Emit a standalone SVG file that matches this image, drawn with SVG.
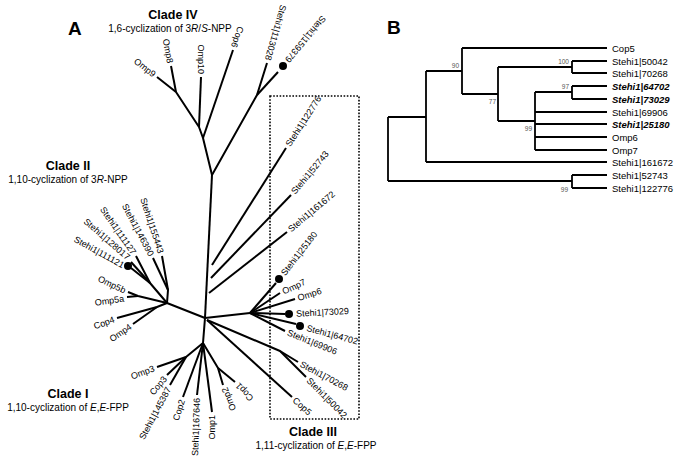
<svg xmlns="http://www.w3.org/2000/svg" width="678" height="460" viewBox="0 0 678 460">
<style>
.br{fill:none;stroke:#000;stroke-width:2;stroke-linecap:butt;stroke-linejoin:round}
.bb{fill:none;stroke:#000;stroke-width:1.8}
.t{font-family:"Liberation Sans",Arial,sans-serif;font-size:9px;fill:#000}
.tb{font-family:"Liberation Sans",Arial,sans-serif;font-size:9.5px;fill:#000}
.bi{font-weight:bold;font-style:italic}
.bs{font-family:"Liberation Sans",Arial,sans-serif;font-size:6.5px;fill:#555}
.h{font-family:"Liberation Sans",Arial,sans-serif;font-size:12.5px;font-weight:bold;fill:#000;text-anchor:middle}
.s{font-family:"Liberation Sans",Arial,sans-serif;font-size:10px;fill:#000;text-anchor:middle}
.P{font-family:"Liberation Sans",Arial,sans-serif;font-size:19px;font-weight:bold;fill:#000}
.e{text-anchor:end}
.dot{fill:#000}
</style>
<text class="P" x="68" y="35">A</text>
<text class="P" x="387" y="34">B</text>

<g id="clade-labels">
<text class="h" x="173" y="19">Clade IV</text>
<text class="s" x="170" y="32">1,6-cyclization of 3<tspan font-style="italic">R</tspan>/<tspan font-style="italic">S</tspan>-NPP</text>
<text class="h" x="68" y="170">Clade II</text>
<text class="s" x="68" y="183">1,10-cyclization of 3<tspan font-style="italic">R</tspan>-NPP</text>
<text class="h" x="68" y="398">Clade I</text>
<text class="s" x="68" y="411">1,10-cyclization of <tspan font-style="italic">E</tspan>,<tspan font-style="italic">E</tspan>-FPP</text>
<text class="h" x="313" y="436">Clade III</text>
<text class="s" x="316" y="449">1,11-cyclization of <tspan font-style="italic">E</tspan>,<tspan font-style="italic">E</tspan>-FPP</text>
</g>

<rect id="clade3-box" x="270" y="96" width="89" height="323" fill="none" stroke="#000" stroke-width="1.6" stroke-dasharray="1.6 1.6"/>

<g id="connectors-A" class="br">
<path d="M205,318 L212,175"/>
<path d="M212,175 L203,138 L199,127 L176,92 L157,77"/>
<path d="M203,138 L233,50"/>
<path d="M199,127 L201,77"/>
<path d="M176,92 L171,66"/>
<path d="M212,175 L257,95 L267,63"/>
<path d="M257,95 L278,72"/>
<path d="M212,265 L286,148"/>
<path d="M211,278 L291,195"/>
<path d="M209,293 L287,232"/>
<path d="M205,318 L250,313"/>
<path d="M250,313 L276,283"/>
<path d="M250,313 L280,293"/>
<path d="M250,313 L295,299"/>
<path d="M250,313 L285,314"/>
<path d="M250,313 L296,324"/>
<path d="M250,313 L285,331"/>
<path d="M207,320 L280,351 L298,362"/>
<path d="M280,351 L306,377"/>
<path d="M207,320 L292,397"/>
<path d="M205,318 L167,303 L157,307 L117,318"/>
<path d="M157,307 L133,324"/>
<path d="M167,303 L138,296 L128,292"/>
<path d="M138,296 L127,297"/>
<path d="M167,303 L168,290 L162,256"/>
<path d="M168,290 L153,258"/>
<path d="M167,303 L150,283 L136,256"/>
<path d="M150,283 L131,262"/>
<path d="M150,283 L131,268"/>
<path d="M205,318 L203,343 L186,357 L157,367"/>
<path d="M186,357 L167,375"/>
<path d="M186,357 L170,385"/>
<path d="M203,343 L183,397"/>
<path d="M203,343 L197,395"/>
<path d="M203,343 L212,412"/>
<path d="M203,343 L218,368 L223,385"/>
<path d="M218,368 L235,382"/>
</g>

<g id="markers-A" class="dot">
<circle cx="283" cy="66" r="4"/>
<circle cx="128" cy="266" r="4"/>
<circle cx="279" cy="279" r="4"/>
<circle cx="289" cy="314" r="4"/>
<circle cx="300" cy="326" r="4"/>
</g>

<g id="leaves-A" class="t">
<g id="Omp9"><text class="e" transform="translate(157,77) rotate(38)" x="-3" dy="0.35em">Omp9</text></g>
<g id="Omp8"><text class="e" transform="translate(171,66) rotate(79)" x="-3" dy="0.35em">Omp8</text></g>
<g id="Omp10"><text class="e" transform="translate(201,77) rotate(90)" x="-3" dy="0.35em">Omp10</text></g>
<g id="Cop6"><text class="e" transform="translate(233,50) rotate(109)" x="-3" dy="0.35em">Cop6</text></g>
<g id="S113028"><text class="e" transform="translate(267,63) rotate(106)" x="-3" dy="0.35em">Stehi1|113028</text></g>
<g id="S159379"><text class="e" transform="translate(283,66) rotate(130)" x="-6" dy="0.35em">Stehi1|159379</text></g>
<g id="S155443"><text class="e" transform="translate(162,256) rotate(72)" x="-3" dy="0.35em">Stehi1|155443</text></g>
<g id="S146390"><text class="e" transform="translate(153,258) rotate(62)" x="-3" dy="0.35em">Stehi1|146390</text></g>
<g id="S111127"><text class="e" transform="translate(136,256) rotate(55)" x="-3" dy="0.35em">Stehi1|111127</text></g>
<g id="S128017"><text class="e" transform="translate(131,260) rotate(41)" x="-3" dy="0.35em">Stehi1|128017</text></g>
<g id="S111121"><text class="e" transform="translate(128,268) rotate(29)" x="-5" dy="0.35em">Stehi1|111121</text></g>
<g id="Omp5b"><text class="e" transform="translate(128,292) rotate(25)" x="-3" dy="0.35em">Omp5b</text></g>
<g id="Omp5a"><text class="e" transform="translate(127,298) rotate(-8)" x="-3" dy="0.35em">Omp5a</text></g>
<g id="Cop4"><text class="e" transform="translate(117,318) rotate(-20)" x="-3" dy="0.35em">Cop4</text></g>
<g id="Omp4"><text class="e" transform="translate(133,324) rotate(-35)" x="-3" dy="0.35em">Omp4</text></g>
<g id="Omp3"><text class="e" transform="translate(157,367) rotate(-20)" x="-3" dy="0.35em">Omp3</text></g>
<g id="Cop3"><text class="e" transform="translate(167,375) rotate(-50)" x="-3" dy="0.35em">Cop3</text></g>
<g id="S145387"><text class="e" transform="translate(170,385) rotate(-62)" x="-3" dy="0.35em">Stehi1|145387</text></g>
<g id="Cop2"><text class="e" transform="translate(183,397) rotate(-72)" x="-3" dy="0.35em">Cop2</text></g>
<g id="S167646"><text class="e" transform="translate(197,395) rotate(-88)" x="-3" dy="0.35em">Stehi1|167646</text></g>
<g id="Omp1"><text class="e" transform="translate(212,412) rotate(-90)" x="-3" dy="0.35em">Omp1</text></g>
<g id="Omp2"><text class="e" transform="translate(223,385) rotate(-112)" x="-3" dy="0.35em">Omp2</text></g>
<g id="Cop1"><text class="e" transform="translate(235,382) rotate(-133)" x="-3" dy="0.35em">Cop1</text></g>
<g id="S122776"><text transform="translate(286,148) rotate(-57)" x="3" dy="0.35em">Stehi1|122776</text></g>
<g id="S52743"><text transform="translate(291,195) rotate(-50)" x="3" dy="0.35em">Stehi1|52743</text></g>
<g id="S161672"><text transform="translate(287,232) rotate(-40)" x="3" dy="0.35em">Stehi1|161672</text></g>
<g id="S25180"><text transform="translate(279,279) rotate(-52)" x="6" dy="0.35em">Stehi1|25180</text></g>
<g id="Omp7"><text transform="translate(280,293) rotate(-25)" x="3" dy="0.35em">Omp7</text></g>
<g id="Omp6"><text transform="translate(295,299) rotate(-18)" x="3" dy="0.35em">Omp6</text></g>
<g id="S73029"><text transform="translate(289,314) rotate(-3)" x="7" dy="0.35em">Stehi1|73029</text></g>
<g id="S64702"><text transform="translate(300,326) rotate(15)" x="7" dy="0.35em">Stehi1|64702</text></g>
<g id="S69906"><text transform="translate(285,331) rotate(22)" x="3" dy="0.35em">Stehi1|69906</text></g>
<g id="S70268"><text transform="translate(298,362) rotate(28)" x="3" dy="0.35em">Stehi1|70268</text></g>
<g id="S50042"><text transform="translate(306,377) rotate(45)" x="3" dy="0.35em">Stehi1|50042</text></g>
<g id="Cop5"><text transform="translate(292,397) rotate(42)" x="3" dy="0.35em">Cop5</text></g>
</g>

<g id="connectors-B" class="bb">
<path d="M388,117 V181"/>
<path d="M388,117 H426 M388,181 H572"/>
<path d="M426,71 V162 M426,71 H462 M426,162 H607"/>
<path d="M462,48 V94 M462,48 H607 M462,94 H498"/>
<path d="M498,67 V121 M498,67 H572 M498,121 H535"/>
<path d="M572,61 V73 M572,61 H607 M572,73 H607"/>
<path d="M535,92 V150 M535,92 H572 M535,112 H607 M535,124 H607 M535,137 H607 M535,150 H607"/>
<path d="M572,86 V99 M572,86 H607 M572,99 H607"/>
<path d="M572,175 V188 M572,175 H607 M572,188 H607"/>
</g>

<g id="bootstrap-B" class="bs">
<text x="459" y="68" text-anchor="end">90</text>
<text x="569" y="64" text-anchor="end">100</text>
<text x="496" y="104" text-anchor="end">77</text>
<text x="569" y="89" text-anchor="end">97</text>
<text x="532" y="131" text-anchor="end">99</text>
<text x="568" y="192" text-anchor="end">99</text>
</g>

<g id="leaves-B" class="tb">
<g id="B-Cop5"><text x="612" y="51.5">Cop5</text></g>
<g id="B-50042"><text x="612" y="64.5">Stehi1|50042</text></g>
<g id="B-70268"><text x="612" y="76.5">Stehi1|70268</text></g>
<g id="B-64702"><text class="bi" x="612" y="89.5">Stehi1|64702</text></g>
<g id="B-73029"><text class="bi" x="612" y="102.5">Stehi1|73029</text></g>
<g id="B-69906"><text x="612" y="115.5">Stehi1|69906</text></g>
<g id="B-25180"><text class="bi" x="612" y="127.5">Stehi1|25180</text></g>
<g id="B-Omp6"><text x="612" y="140.5">Omp6</text></g>
<g id="B-Omp7"><text x="612" y="153.5">Omp7</text></g>
<g id="B-161672"><text x="612" y="165.5">Stehi1|161672</text></g>
<g id="B-52743"><text x="612" y="178.5">Stehi1|52743</text></g>
<g id="B-122776"><text x="612" y="191.5">Stehi1|122776</text></g>
</g>
</svg>
